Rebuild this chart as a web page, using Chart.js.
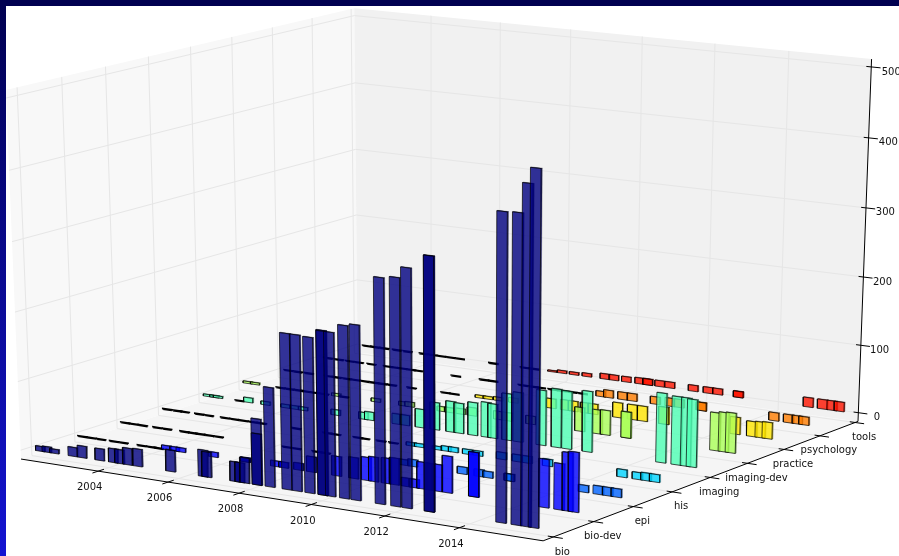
<!DOCTYPE html>
<html><head><meta charset="utf-8">
<script src="https://cdn.jsdelivr.net/npm/chart.js@4"></script>
<style>
html,body{margin:0;padding:0;background:#fff;overflow:hidden}
#c{position:absolute;left:0;top:0}
#top{position:absolute;left:0;top:0;width:899px;height:6px;background:#000050}
#left{position:absolute;left:0;top:0;width:6px;height:556px;background:linear-gradient(#000050,#1414d2)}
</style></head><body>
<canvas id="c" width="899" height="556"></canvas><div id="top"></div><div id="left"></div>
<script>
const categories=['bio','bio-dev','epi','his','imaging','imaging-dev','practice','psychology','tools'];
const yearTicks=[2004,2006,2008,2010,2012,2014];
const zTicks=[0,100,200,300,400,500];
const bioYears=[2002.15,2002.34,2002.56,2003.10,2003.37,2003.88,2004.27,2004.45,2004.68,2004.97,2005.91,2006.83,2006.93,2007.72,2007.86,2008.00,2008.34,2008.34,2008.70,2009.17,2009.45,2009.80,2010.16,2010.16,2010.37,2010.75,2011.06,2011.72,2012.14,2012.44,2013.04,2013.04,2014.94,2015.34,2015.59,2015.79];
const bioValues=[7,8,6,13,17,17,20,20,24,25,31,38,36,28,28,36,94,73,141,220,220,219,231,230,230,242,245,314,317,332,352,352,423,424,464,485];
const bioDevYears=[2002.10,2002.37,2002.65,2003.03,2003.30,2003.84,2004.11,2004.33,2004.54,2004.78,2004.96,2005.89,2006.80,2006.80,2007.65,2007.88,2008.30,2008.66,2009.36,2009.83,2010.18,2010.38,2010.73,2010.95,2011.27,2011.49,2011.70,2011.92,2012.12,2012.39,2013.10,2013.10,2014.97,2015.37,2015.59,2015.75];
const bioDevValues=[1,1,1,1,1,1,1,1,6,6,6,7,6,6,8,8,10,22,28,30,33,35,36,38,12,12,38,38,38,52,63,63,68,65,82,84];
const epiYears=[2002.09,2002.33,2002.61,2003.04,2003.32,2003.83,2004.07,2004.29,2004.55,2004.82,2006.79,2007.05,2007.63,2007.88,2010.08,2010.31,2011.67,2012.13,2012.37,2012.95,2012.95,2014.94,2015.33,2015.58,2015.81];
const epiValues=[1,1,1,1,1,1,1,1,1,1,1,1,1,1,8,10,10,10,9,10,10,10,12,12,12];
const hisYears=[2002.08,2002.38,2002.60,2003.03,2003.31,2003.79,2004.06,2004.33,2004.60,2004.86,2005.86,2006.75,2007.00,2007.62,2007.82,2008.28,2008.63,2009.12,2009.35,2009.85,2010.10,2010.30,2010.69,2010.98,2011.63,2012.06,2012.33,2012.89,2014.90,2015.31,2015.54,2015.77];
const hisValues=[1,1,1,1,1,1,1,1,1,1,1,1,1,1,1,1,1,5,5,5,7,7,7,7,10,10,10,10,11,10,11,11];
const imagingYears=[2002.05,2002.24,2002.35,2003.00,2003.25,2003.76,2004.35,2004.62,2004.86,2005.81,2006.61,2006.78,2007.57,2007.80,2008.23,2008.65,2009.10,2009.33,2009.72,2010.09,2010.28,2010.67,2010.98,2011.62,2012.04,2012.33,2012.89,2014.89,2015.30,2015.55,2015.71];
const imagingValues=[3,3,3,1,7,5,5,5,5,8,10,12,15,15,27,40,45,44,48,51,50,68,72,80,85,84,88,100,98,98,97];
const imagingDevYears=[2002.02,2002.24,2003.01,2003.28,2003.55,2003.76,2004.03,2004.30,2004.65,2004.88,2005.81,2006.61,2006.79,2007.72,2007.93,2008.25,2008.58,2009.33,2009.58,2010.24,2011.61,2012.09,2012.32,2012.89,2012.89,2015.31,2015.54,2015.73];
const imagingDevValues=[3,3,1,1,1,1,1,1,4,1,5,6,7,7,7,8,12,12,12,12,35,35,36,38,38,55,57,58];
const practiceYears=[2002.05,2002.33,2002.66,2003.26,2003.50,2003.80,2004.06,2004.33,2004.60,2004.86,2005.13,2005.71,2006.70,2006.95,2007.69,2007.92,2008.22,2008.65,2009.73,2010.13,2010.35,2010.69,2010.91,2011.60,2012.01,2012.29,2012.88,2012.88,2014.84,2015.29,2015.52,2015.71];
const practiceValues=[1,1,1,1,1,1,1,1,1,1,1,1,1,1,4,4,5,7,14,15,15,15,15,22,22,22,25,25,25,22,23,24];
const psychologyYears=[2002.06,2002.39,2002.72,2002.99,2003.37,2003.86,2004.07,2004.29,2004.55,2004.76,2005.87,2006.70,2006.96,2007.83,2008.14,2008.34,2008.69,2008.94,2009.24,2009.54,2010.06,2010.28,2010.68,2010.95,2011.60,2012.01,2012.27,2012.89,2012.89,2014.89,2015.29,2015.53,2015.71];
const psychologyValues=[1,1,1,1,1,1,1,1,1,1,1,1,1,1,1,1,1,1,1,1,8,11,11,11,11,12,12,12,12,12,12,12,12];
const toolsYears=[2002.07,2002.32,2002.60,2002.98,2003.30,2003.79,2004.06,2004.32,2004.59,2004.86,2005.86,2006.79,2007.05,2007.59,2007.87,2008.22,2008.59,2009.11,2009.37,2009.73,2010.11,2010.34,2010.34,2010.68,2010.97,2011.63,2012.05,2012.32,2012.90,2012.90,2014.84,2015.23,2015.49,2015.69];
const toolsValues=[1,1,1,1,1,1,1,1,1,1,1,1,1,2,4,4,5,8,8,8,9,9,9,9,9,9,9,9,9,9,14,14,14,14];
const rowYears=[bioYears,bioDevYears,epiYears,hisYears,imagingYears,imagingDevYears,practiceYears,psychologyYears,toolsYears];
const rowValues=[bioValues,bioDevValues,epiValues,hisValues,imagingValues,imagingDevValues,practiceValues,psychologyValues,toolsValues];
const rowColors=[[0,0,128],[0,0,255],[0,99,255],[0,212,255],[77,255,180],[170,255,87],[255,230,0],[255,125,0],[255,20,0]];

// camera: fitted from the box corners and the z axis ticks (floor corners weighted)
const Y0=2001.75,Y1=2016.2,Z0=-13,Z1=511,V0=0.03,VS=0.12,BAR_SHIFT=-0.09;
const refs=[[0,0,-13,21,459,8],[1,0,-13,543,541,8],[1,1,-13,858,421,8],[0,1,-13,358,353,4],[0,0,511,8,88,2],[0,1,511,353,8,3],[1,1,511,872,60,3],
[1,1,0,859,413,1],[1,1,100,862,348,1],[1,1,200,864,280,1],[1,1,300,866,210,1],[1,1,400,869,137,1],[1,1,500,871.5,66,1],[0,1,400,354,82,1]];
function solve(A,b){const n=b.length;for(let i=0;i<n;i++){let m=i;for(let r=i+1;r<n;r++)if(Math.abs(A[r][i])>Math.abs(A[m][i]))m=r;[A[i],A[m]]=[A[m],A[i]];[b[i],b[m]]=[b[m],b[i]];for(let r=i+1;r<n;r++){const f=A[r][i]/A[i][i];for(let c=i;c<n;c++)A[r][c]-=f*A[i][c];b[r]-=f*b[i];}}const x=Array(n).fill(0);for(let i=n-1;i>=0;i--){let s=b[i];for(let c=i+1;c<n;c++)s-=A[i][c]*x[c];x[i]=s/A[i][i];}return x;}
const rowsM=[],rhs=[];
refs.forEach(([u,v,z,px,py,w])=>{const zn=z/500,x=px/1000,y=py/1000;
 rowsM.push([u,v,zn,1,0,0,0,0,-x*u,-x*v,-x*zn].map(q=>q*w));rhs.push(x*w);
 rowsM.push([0,0,0,0,u,v,zn,1,-y*u,-y*v,-y*zn].map(q=>q*w));rhs.push(y*w);});
const N=11,AtA=Array.from({length:N},()=>Array(N).fill(0)),Atb=Array(N).fill(0);
rowsM.forEach((r,k)=>{for(let i=0;i<N;i++){Atb[i]+=r[i]*rhs[k];for(let j=0;j<N;j++)AtA[i][j]+=r[i]*r[j];}});
const P=solve(AtA,Atb);
function proj(u,v,z){const zn=z/500,w=P[8]*u+P[9]*v+P[10]*zn+1;return {x:1000*(P[0]*u+P[1]*v+P[2]*zn+P[3])/w,y:1000*(P[4]*u+P[5]*v+P[6]*zn+P[7])/w};}
const uOf=y=>(y-Y0)/(Y1-Y0), vOf=r=>V0+VS*r, vBar=r=>0.012+0.1225*r;

const layers=[];
function poly(pts,stroke,fill,lw){layers.push({data:pts,borderColor:stroke||'rgba(0,0,0,0)',backgroundColor:fill||'rgba(0,0,0,0)',borderWidth:lw===undefined?1:lw,fill:fill?'shape':false,showLine:true,pointRadius:0,tension:0});}
const close=a=>a.concat([a[0]]);
// panes
poly(close([proj(0,0,Z0),proj(1,0,Z0),proj(1,1,Z0),proj(0,1,Z0)]),null,'#f5f5f5',0);
poly(close([proj(0,0,Z0),proj(0,1,Z0),proj(0,1,Z1),proj(0,0,Z1)]),null,'#f8f8f8',0);
poly(close([proj(0,1,Z0),proj(1,1,Z0),proj(1,1,Z1),proj(0,1,Z1)]),null,'#f1f1f1',0);
const GRID='#e6e6e6';
yearTicks.forEach(y=>{const u=uOf(y);poly([proj(u,0,Z0),proj(u,1,Z0),proj(u,1,Z1)],GRID);});
categories.forEach((c,r)=>{const v=vOf(r);poly([proj(1,v,Z0),proj(0,v,Z0),proj(0,v,Z1)],GRID);});
zTicks.forEach(z=>poly([proj(0,0,z),proj(0,1,z),proj(1,1,z)],GRID));
// axes
poly([proj(0,0,Z0),proj(1,0,Z0),proj(1,1,Z0),proj(1,1,Z1)],'#000');
yearTicks.forEach(y=>{const u=uOf(y);poly([proj(u,-0.016,Z0),proj(u,0.016,Z0)],'#000');});
categories.forEach((c,r)=>{const v=vOf(r);poly([proj(0.99,v,Z0),proj(1.017,v,Z0)],'#000');});
zTicks.forEach(z=>poly([proj(0.991,1,z),proj(1.017,1,z)],'#000'));
// bars, back row first, then left to right
const BW=0.27/(Y1-Y0),BD=0.003,EDGE='rgba(0,0,0,0.7)',EDGE2='rgba(0,0,0,0.3)';
for(let r=8;r>=0;r--){
 const order=rowYears[r].map((y,i)=>i).sort((a,b)=>rowYears[r][a]-rowYears[r][b]);
 const c=rowColors[r],fill=`rgba(${c[0]},${c[1]},${c[2]},0.8)`,v=vBar(r);
 order.forEach(i=>{const u=uOf(rowYears[r][i]+BAR_SHIFT),z=rowValues[r][i];
  if(z<=1){poly(close([proj(u,v,0),proj(u+BW,v,0),proj(u+BW,v,z),proj(u,v,z)]),'#000',null,1.6);return;}
  poly(close([proj(u+BW,v,0),proj(u+BW,v+BD,0),proj(u+BW,v+BD,z),proj(u+BW,v,z)]),EDGE2,fill);
  poly(close([proj(u,v,z),proj(u+BW,v,z),proj(u+BW,v+BD,z),proj(u,v+BD,z)]),EDGE2,fill);
  poly(close([proj(u,v,0),proj(u+BW,v,0),proj(u+BW,v,z),proj(u,v,z)]),EDGE,fill);
 });
}
layers.forEach((d,i)=>d.order=layers.length-i);
const labels={id:'labels',afterDraw(ch){const g=ch.ctx,sx=ch.scales.x,sy=ch.scales.y;
 g.save();g.font='10px "DejaVu Sans"';g.fillStyle='#111';g.textAlign='center';g.textBaseline='middle';
 const t=(s,p,dx,dy)=>g.fillText(s,sx.getPixelForValue(p.x)+dx,sy.getPixelForValue(p.y)+dy);
 yearTicks.forEach(y=>t(String(y),proj(uOf(y),0,Z0),-8.5,16.5));
 categories.forEach((c,r)=>t(c,proj(1,vOf(r),Z0),9,15));
 zTicks.forEach(z=>t(String(z),proj(1,1,z),18.5+z*0.003,5));
 g.restore();}};
new Chart(document.getElementById('c'),{type:'scatter',data:{datasets:layers},plugins:[labels],
 options:{responsive:false,devicePixelRatio:1,animation:false,layout:{padding:0},
  plugins:{legend:{display:false},tooltip:{enabled:false},filler:{propagate:false}},
  elements:{line:{borderCapStyle:'butt',borderJoinStyle:'miter'}},
  scales:{x:{type:'linear',min:0,max:899,display:false},y:{type:'linear',min:0,max:556,reverse:true,display:false}}}});
</script></body></html>
